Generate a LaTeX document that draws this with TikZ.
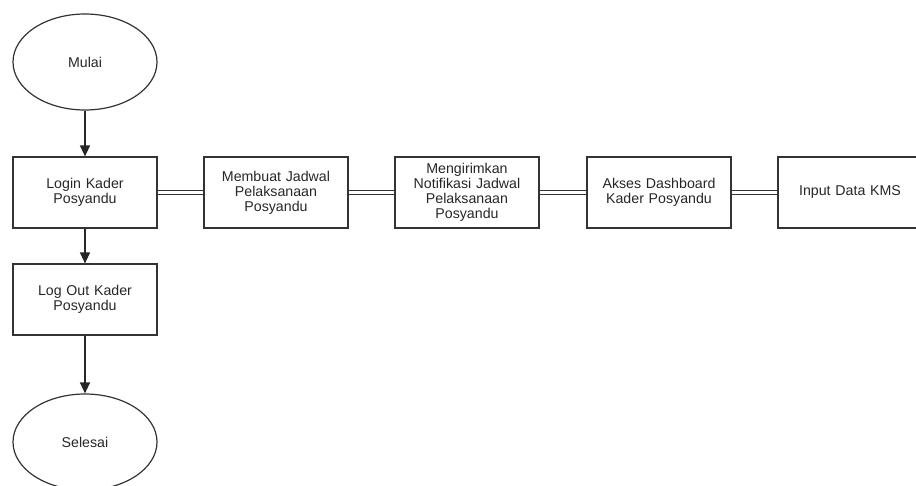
\documentclass[tikz,border=0pt]{standalone}
\usepackage{fontspec}
\setmainfont{Liberation Sans}
\usetikzlibrary{shapes.geometric,arrows.meta}
\begin{document}
\begin{tikzpicture}[x=1pt,y=-1pt,
  every node/.style={font=\fontsize{14.2}{15}\selectfont, text=black!85, align=center},
  boxnode/.style={draw=black!80, line width=1.2pt, minimum width=144pt, minimum height=71pt, inner sep=0pt, text width=136pt},
  termnode/.style={draw=black!80, line width=1.2pt, ellipse, minimum width=144pt, minimum height=96pt, inner sep=0pt},
  flow/.style={draw=black!85, line width=1.3pt, -{Triangle[length=11pt,width=10pt]}},
  link/.style={draw=black!80, line width=1pt, double=white, double distance=3.2pt}
]
\useasboundingbox (0,0) rectangle (916,485);
\clip (0,0) rectangle (916,485);
\node[termnode] (mulai) at (85,62) {Mulai};
\node[boxnode] (login) at (85,192.5) {Login Kader\\Posyandu};
\node[boxnode] (logout) at (85,299.5) {Log Out Kader\\Posyandu};
\node[termnode] (selesai) at (85,442) {Selesai};
\node[boxnode] (jadwal) at (276,192.5) {Membuat Jadwal\\Pelaksanaan\\Posyandu};
\node[boxnode] (notif) at (467,192.5) {Mengirimkan\\Notifikasi Jadwal\\Pelaksanaan\\Posyandu};
\node[boxnode] (akses) at (659,192.5) {Akses Dashboard\\Kader Posyandu};
\node[boxnode] (input) at (850,192.5) {Input Data KMS};
\draw[flow] (mulai) -- (login);
\draw[flow] (login) -- (logout);
\draw[flow] (logout) -- (selesai);
\draw[link] (login) -- (jadwal);
\draw[link] (jadwal) -- (notif);
\draw[link] (notif) -- (akses);
\draw[link] (akses) -- (input);
\end{tikzpicture}
\end{document}
